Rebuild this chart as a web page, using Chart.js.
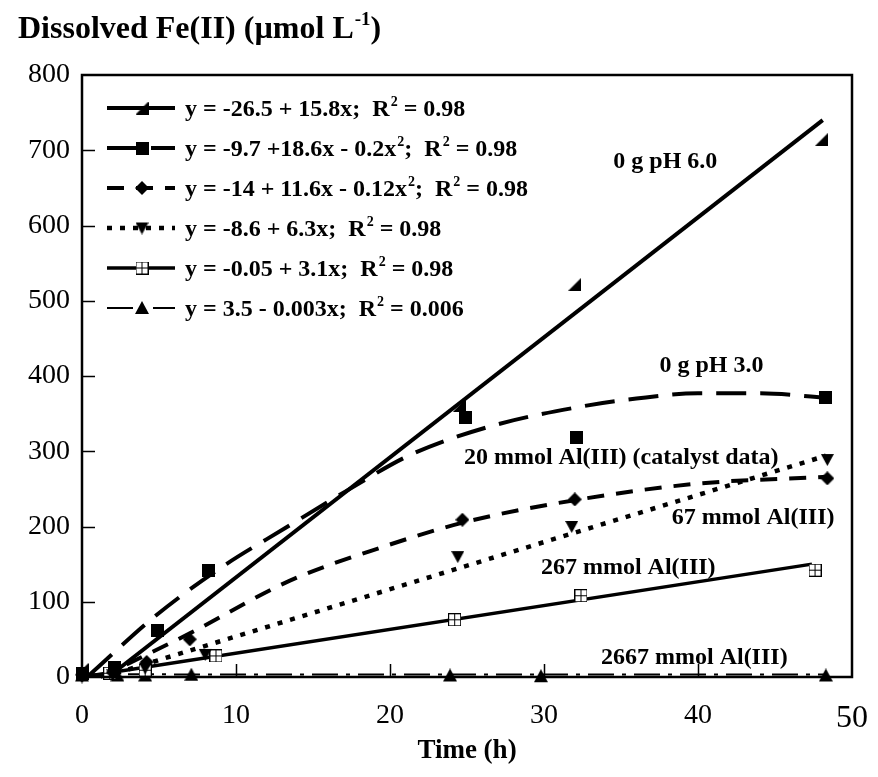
<!DOCTYPE html>
<html>
<head>
<meta charset="utf-8">
<script src="https://cdn.jsdelivr.net/npm/chart.js@4.4.0/dist/chart.umd.min.js"></script>
<style>
  html, body { margin: 0; padding: 0; background: #fff; }
</style>
</head>
<body>
<canvas id="chart" width="878" height="777"></canvas>
<script>
// measured points (time in h, Fe(II) in umol/L) and the fitted curves for each run
const ph6Time = [0, 24.5, 32, 48];
const ph6Fe = [10, 361, 522, 714];
const ph6FitTime = [1.7, 48.1];
const ph6FitFe = [0, 740];

const ph3Time = [0, 2.1, 4.9, 8.2, 24.9, 32.1, 48.3];
const ph3Fe = [5, 12, 62, 142, 345, 318, 372];
const ph3FitTime = [0.5, 4.7, 9, 13.2, 17.4, 21.3, 26.5, 32.3, 36, 40, 44, 48.3];
const ph3FitFe = [3, 80, 145, 198, 250, 295, 333, 359, 370, 377, 377, 371];

const al20Time = [0, 2, 4.2, 7, 24.7, 32, 48.4];
const al20Fe = [3, 6, 20, 50, 209, 236, 264];
const al20FitTime = [1.2, 7, 13.5, 19.4, 24.9, 32, 40, 48.4];
const al20FitFe = [0, 58, 128, 172, 206, 235, 257, 266];

const al67Time = [0, 2, 4.1, 8, 24.4, 31.8, 48.4];
const al67Fe = [0, 3, 12, 30, 160, 200, 289];
const al67FitTime = [1.4, 48.3];
const al67FitFe = [0, 294];

const al267Time = [0, 1.8, 4.1, 8.7, 24.2, 32.4, 47.6];
const al267Fe = [5, 5, 9, 28, 76, 108, 142];
const al267FitTime = [0, 47.4];
const al267FitFe = [0, 150];

const al2667Time = [0, 2.3, 4.1, 7.1, 23.9, 29.8, 48.3];
const al2667Fe = [2, 2, 2, 3, 2, 1, 2];
const al2667FitTime = [0, 48.3];
const al2667FitFe = [3.5, 3.4];

const xTicks = [0, 10, 20, 30, 40, 50];
const yTicks = [0, 100, 200, 300, 400, 500, 600, 700, 800];

const serif = '"Liberation Serif", "Times New Roman", serif';

// marker images
function marker(size, paint) {
  const c = document.createElement('canvas');
  c.width = size; c.height = size;
  const g = c.getContext('2d');
  g.fillStyle = '#000'; g.strokeStyle = '#000';
  paint(g, size);
  return c;
}
const halfTri = marker(13, (g, s) => {
  g.beginPath(); g.moveTo(s, 0); g.lineTo(s, s); g.lineTo(0, s); g.closePath(); g.fill();
});
const square = marker(13, (g, s) => g.fillRect(0, 0, s, s));
const diamond = marker(14, (g, s) => {
  g.beginPath(); g.moveTo(s / 2, 0); g.lineTo(s, s / 2); g.lineTo(s / 2, s); g.lineTo(0, s / 2); g.closePath(); g.fill();
});
const triDown = marker(13, (g, s) => {
  g.beginPath(); g.moveTo(0, 1); g.lineTo(s, 1); g.lineTo(s / 2, s); g.closePath(); g.fill();
});
const triUp = marker(14, (g, s) => {
  g.beginPath(); g.moveTo(s / 2, 0); g.lineTo(s, s - 1); g.lineTo(0, s - 1); g.closePath(); g.fill();
});
const crossSq = marker(13, (g, s) => {
  g.fillStyle = '#fff'; g.fillRect(0, 0, s, s);
  g.lineWidth = 1;
  g.strokeRect(0.5, 0.5, s - 1, s - 1);
  g.beginPath();
  g.moveTo(s / 2, 0); g.lineTo(s / 2, s);
  g.moveTo(0, s / 2); g.lineTo(s, s / 2);
  g.stroke();
});

const pts = (xs, ys) => xs.map((x, i) => ({ x: x, y: ys[i] }));

const series = [
  { time: ph6Time, fe: ph6Fe, fitTime: ph6FitTime, fitFe: ph6FitFe, icon: halfTri, width: 4, dash: [],
    eq: ['y = -26.5 + 15.8x;  R', { sup: '2' }, ' = 0.98'] },
  { time: ph3Time, fe: ph3Fe, fitTime: ph3FitTime, fitFe: ph3FitFe, icon: square, width: 4, dash: [30, 14], curve: true,
    eq: ['y = -9.7 +18.6x - 0.2x', { sup: '2' }, ';  R', { sup: '2' }, ' = 0.98'] },
  { time: al20Time, fe: al20Fe, fitTime: al20FitTime, fitFe: al20FitFe, icon: diamond, width: 4, dash: [17, 12], curve: true,
    eq: ['y = -14 + 11.6x - 0.12x', { sup: '2' }, ';  R', { sup: '2' }, ' = 0.98'] },
  { time: al67Time, fe: al67Fe, fitTime: al67FitTime, fitFe: al67FitFe, icon: triDown, width: 4.5, dash: [5, 8],
    eq: ['y = -8.6 + 6.3x;  R', { sup: '2' }, ' = 0.98'] },
  { time: al267Time, fe: al267Fe, fitTime: al267FitTime, fitFe: al267FitFe, icon: crossSq, width: 3.5, dash: [],
    eq: ['y = -0.05 + 3.1x;  R', { sup: '2' }, ' = 0.98'] },
  { time: al2667Time, fe: al2667Fe, fitTime: al2667FitTime, fitFe: al2667FitFe, icon: triUp, width: 2, dash: [26, 8, 4, 8],
    eq: ['y = 3.5 - 0.003x;  R', { sup: '2' }, ' = 0.006'] }
];

const notes = [
  { text: '0 g pH 6.0', x: 34.5, y: 684 },
  { text: '0 g pH 3.0', x: 37.5, y: 413 },
  { text: '20 mmol Al(III) (catalyst data)', x: 24.8, y: 291 },
  { text: '67 mmol Al(III)', x: 38.3, y: 211 },
  { text: '267 mmol Al(III)', x: 29.8, y: 145 },
  { text: '2667 mmol Al(III)', x: 33.7, y: 25 }
];

const datasets = [];
series.forEach(s => {
  datasets.push({
    data: pts(s.fitTime, s.fitFe),
    showLine: true,
    borderColor: '#000',
    borderWidth: s.width,
    borderDash: s.dash,
    borderCapStyle: 'butt',
    pointRadius: 0,
    cubicInterpolationMode: s.curve ? 'monotone' : 'default',
    tension: s.curve ? 0.4 : 0,
    clip: false,
    order: 2
  });
  datasets.push({
    data: pts(s.time, s.fe),
    showLine: false,
    pointStyle: s.icon,
    pointRadius: 7,
    clip: false,
    order: 1
  });
});

function drawRich(ctx, parts, x, y, size) {
  let cx = x;
  for (const p of parts) {
    if (typeof p === 'string') {
      ctx.font = `bold ${size}px ${serif}`;
      ctx.fillText(p, cx, y);
      cx += ctx.measureText(p).width;
    } else {
      ctx.font = `bold ${Math.round(size * 0.6)}px ${serif}`;
      ctx.fillText(p.sup, cx + 1, y - size * 0.42);
      cx += ctx.measureText(p.sup).width + 1;
    }
  }
}

const decor = {
  id: 'decor',
  afterDatasetsDraw(chart) {
    const { ctx, chartArea: a, scales } = chart;
    const xs = scales.x, ys = scales.y;
    ctx.save();
    ctx.strokeStyle = '#000';
    ctx.fillStyle = '#000';

    // inward tick marks
    ctx.lineWidth = 1.5;
    ctx.beginPath();
    ys.ticks.forEach(t => {
      if (t.value <= ys.min || t.value >= ys.max) return;
      const py = Math.round(ys.getPixelForValue(t.value)) + 0.5;
      ctx.moveTo(a.left, py); ctx.lineTo(a.left + 13, py);
    });
    xs.ticks.forEach(t => {
      if (t.value <= xs.min || t.value >= xs.max) return;
      const px = Math.round(xs.getPixelForValue(t.value)) + 0.5;
      ctx.moveTo(px, a.bottom); ctx.lineTo(px, a.bottom - 13);
    });
    ctx.stroke();

    // plot frame
    ctx.lineWidth = 2.5;
    ctx.strokeRect(a.left, a.top, a.right - a.left, a.bottom - a.top);

    // curve labels
    ctx.textBaseline = 'middle';
    ctx.textAlign = 'left';
    ctx.font = `bold 24px ${serif}`;
    notes.forEach(n => {
      ctx.fillText(n.text, xs.getPixelForValue(n.x), ys.getPixelForValue(n.y));
    });

    // legend with the fitted equations
    ctx.textBaseline = 'alphabetic';
    series.forEach((s, i) => {
      const ry = 108 + i * 40;
      ctx.lineWidth = s.width;
      ctx.setLineDash(s.dash);
      ctx.lineCap = 'butt';
      ctx.beginPath();
      ctx.moveTo(107, ry); ctx.lineTo(175, ry);
      ctx.stroke();
      ctx.setLineDash([]);
      ctx.drawImage(s.icon, 142 - s.icon.width / 2, ry - s.icon.height / 2);
      drawRich(ctx, s.eq, 185, ry + 8, 24);
    });

    // y axis heading
    drawRich(ctx, ['Dissolved Fe(II) (\u00b5mol L', { sup: '-1' }, ')'], 18, 38, 32);
    ctx.restore();
  }
};

new Chart(document.getElementById('chart'), {
  type: 'scatter',
  data: { datasets: datasets },
  options: {
    responsive: false,
    animation: false,
    layout: { padding: { top: 75, right: 26, left: 0, bottom: 0 } },
    plugins: { legend: { display: false }, tooltip: { enabled: false } },
    scales: {
      x: {
        type: 'linear',
        min: 0, max: 50,
        afterBuildTicks: s => { s.ticks = xTicks.map(v => ({ value: v })); },
        afterFit: s => { s.height = 100; s.paddingLeft = 0; s.paddingRight = 0; },
        grid: { display: false, drawTicks: false },
        border: { display: false },
        ticks: {
          padding: 22,
          color: '#000',
          font: c => ({ family: serif, size: c.tick && c.tick.value === 50 ? 32 : 28 })
        },
        title: {
          display: true,
          text: 'Time (h)',
          color: '#000',
          font: { family: serif, size: 27, weight: 'bold' },
          padding: { top: 0, bottom: 10 }
        }
      },
      y: {
        type: 'linear',
        min: 0, max: 800,
        afterBuildTicks: s => { s.ticks = yTicks.map(v => ({ value: v })); },
        afterFit: s => { s.width = 82; s.paddingTop = 0; s.paddingBottom = 0; },
        grid: { display: false, drawTicks: false },
        border: { display: false },
        ticks: {
          padding: 12,
          color: '#000',
          font: { family: serif, size: 28 }
        }
      }
    }
  },
  plugins: [decor]
});
</script>
</body>
</html>
